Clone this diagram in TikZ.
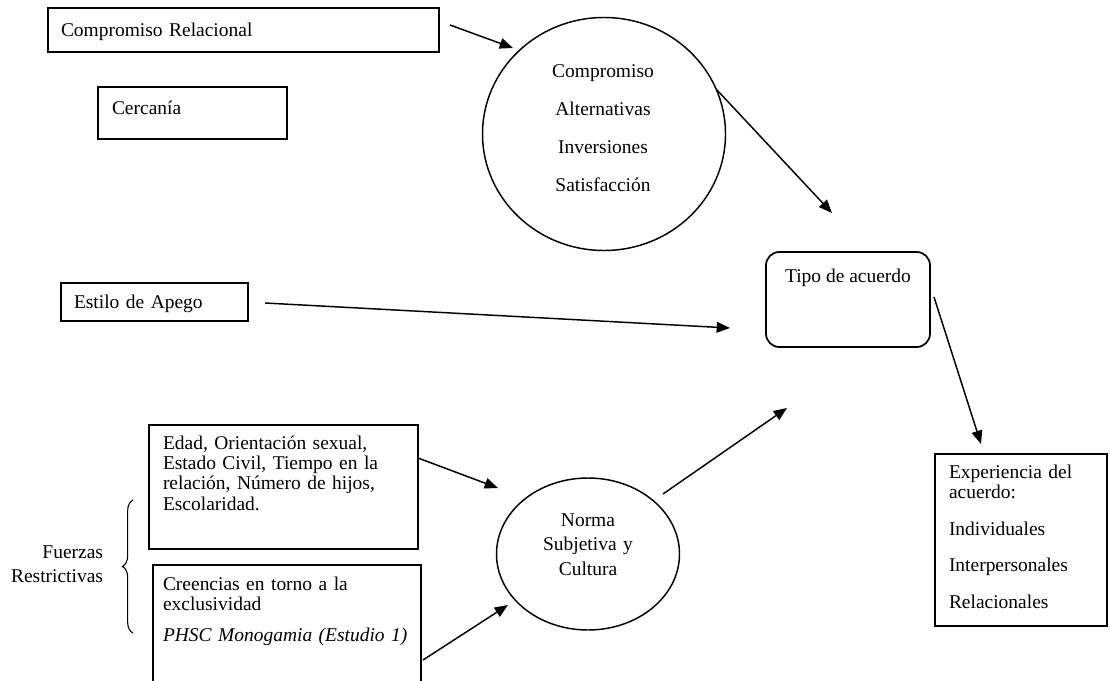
\documentclass[tikz,border=0pt]{standalone}
\usepackage{fontspec}
\setmainfont{Liberation Serif}
\usetikzlibrary{fit,calc,shapes.geometric,arrows.meta,decorations.pathreplacing}
\begin{document}
\begin{tikzpicture}[x=0.75pt,y=-0.75pt,
  every node/.style={inner sep=0pt, outer sep=0pt},
  box/.style={draw, line width=1.3pt, inner sep=0pt, fit={#1}},
  oval/.style={draw, ellipse, line width=1.1pt, inner sep=0pt},
  body/.style={font=\fontsize{14.6}{15.3}\selectfont},
  txt/.style={body, text width=#1, align=left, anchor=base west},
  arr/.style={draw, line width=1.1pt, -{Triangle[length=10pt,width=8pt]}},
  curly/.style={decorate, decoration={brace, amplitude=8pt}, line width=0.8pt}
]
\useasboundingbox (0,0) rectangle (1110,681);
\clip (0,0) rectangle (1110,681);

% --- boxes ---
\node[box={(48,8) (439,52)}] (rel) {};
\node[box={(98,87) (287,139)}] (cerc) {};
\node[box={(61,283) (248,321)}] (est) {};
\node[box={(149,425) (418,549)}] (edad) {};
\node[box={(153,565) (421,700)}] (cre) {};
\node[box={(766,252) (930,347)}, rounded corners=10pt] (tipo) {};
\node[box={(935,454) (1107,626)}] (exp) {};

% --- ovals ---
\node[oval, minimum width=182.25pt, minimum height=174.75pt] (comp) at (604,134) {};
\node[oval, minimum width=137.25pt, minimum height=114pt] (norma) at (588,554) {};

% --- texts ---
\node[txt=300pt] (relT) at (61,37) {Compromiso Relacional};
\node[txt=150pt] (cercT) at (112,115) {Cercanía};
\node[txt=150pt] (estT) at (74,308) {Estilo de Apego};
\node[txt=220pt] (edadT) at (163,449)
  {Edad, Orientación sexual,\\Estado Civil, Tiempo en la\\relación, Número de hijos,\\Escolaridad.};
\node[txt=220pt] (creT) at (163,590)
  {Creencias en torno a la\\exclusividad\\[8.3pt]\textit{PHSC Monogamia (Estudio 1)}};
\node[txt=125pt] (expT) at (949,478)
  {Experiencia del\\acuerdo:\\[12.4pt]Individuales\\[12pt]Interpersonales\\[12pt]Relacionales};
\node[font=\fontsize{14.6}{15.3}\selectfont, anchor=base] (tipoT) at (848,282) {Tipo de acuerdo};
\node[font=\fontsize{14.6}{28.5}\selectfont, text width=150pt, align=center, anchor=base] (compT) at (603,78)
  {Compromiso\\Alternativas\\Inversiones\\Satisfacción};
\node[font=\fontsize{14.6}{18.4}\selectfont, text width=120pt, align=center, anchor=base] (normaT) at (588,526)
  {Norma\\Subjetiva y\\Cultura};
\node[font=\fontsize{14.6}{18}\selectfont, text width=90pt, align=right, anchor=base east] (fuerT) at (103,558)
  {Fuerzas\\Restrictivas};

% --- brace grouping the restrictive forces ---
\coordinate (brT) at (133,500);
\coordinate (brB) at (133,633);
\draw[curly] (brB) -- (brT);

% --- connectors ---
\draw[arr] ($(rel.east)+(11,-5)$) -- ($(comp.center)+(-91,-86)$);
\draw[arr] ($(comp.center)+(113,-44)$) -- ($(tipo.north west)+(66,-39)$);
\draw[arr] ($(est.east)+(17,1)$) -- ($(tipo.west)+(-36,28.5)$);
\draw[arr] ($(tipo.east)+(4,-2.5)$) -- ($(exp.north west)+(46,-10)$);
\draw[arr] ($(edad.east)+(0,-29)$) -- ($(norma.center)+(-90,-66)$);
\draw[arr] ($(cre.north east)+(2,95)$) -- ($(norma.center)+(-80,51)$);
\draw[arr] ($(norma.center)+(75,-60)$) -- ($(tipo.south west)+(21,61)$);
\end{tikzpicture}
\end{document}
